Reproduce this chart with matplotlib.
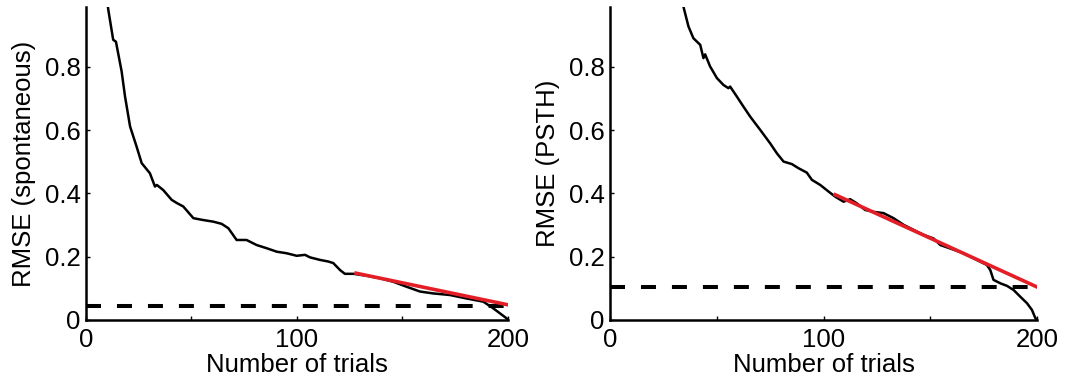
import matplotlib
matplotlib.use("Agg")
import matplotlib.pyplot as plt

# spontaneous RMSE vs trials (left panel)
spont_x = [10, 10.6, 12.9, 14.2, 16.9, 18.5, 20.9, 24.0, 26.4, 30.3, 32.7, 33.6,
           36.6, 40.6, 43.0, 46.1, 50.9, 55.6, 60.3, 64.3, 67.5, 71.4, 76.1,
           80.9, 85.6, 90.4, 95.1, 99.9, 103.8, 106.2, 110.9, 114.8, 117.2,
           120.4, 122.7, 126.7, 133.0, 139.3, 145.6, 152.0, 158.3, 164.6,
           172.5, 180.4, 188.3, 193.0, 196.2, 199.4, 200]
spont_y = [1.01, 0.98, 0.886, 0.88, 0.786, 0.707, 0.612, 0.548, 0.496, 0.464,
           0.422, 0.427, 0.411, 0.38, 0.37, 0.359, 0.322, 0.316, 0.311, 0.304,
           0.29, 0.253, 0.253, 0.237, 0.227, 0.216, 0.211, 0.203, 0.206, 0.198,
           0.19, 0.185, 0.18, 0.158, 0.146, 0.146, 0.14, 0.132, 0.121, 0.105,
           0.09, 0.084, 0.079, 0.068, 0.058, 0.037, 0.021, 0.005, 0.0]
spont_fit_x = [128, 200]
spont_fit_y = [0.148, 0.048]
spont_level = 0.045

# PSTH RMSE vs trials (right panel)
psth_x = [34.0, 34.7, 36.7, 39.0, 42.2, 43.7, 44.5, 46.8, 50.0, 53.1, 55.4,
          56.2, 59.3, 62.4, 65.6, 70.3, 74.9, 78.1, 81.2, 85.1, 88.2, 92.1,
          94.5, 98.4, 102.3, 105.4, 109.3, 112.4, 115.5, 119.4, 123.3, 128.0,
          132.7, 137.4, 142.1, 146.8, 151.4, 154.6, 159.3, 165.5, 171.7,
          176.4, 178.0, 179.5, 182.7, 185.8, 188.9, 192.0, 195.2, 197.5,
          199.1, 200]
psth_y = [1.0, 0.981, 0.928, 0.891, 0.87, 0.828, 0.84, 0.802, 0.765, 0.743,
          0.733, 0.738, 0.707, 0.675, 0.643, 0.601, 0.559, 0.527, 0.501,
          0.493, 0.48, 0.466, 0.443, 0.427, 0.406, 0.39, 0.374, 0.382, 0.369,
          0.348, 0.342, 0.338, 0.322, 0.301, 0.285, 0.269, 0.258, 0.237,
          0.226, 0.211, 0.19, 0.174, 0.158, 0.127, 0.116, 0.108, 0.095, 0.074,
          0.053, 0.032, 0.006, 0.0]
psth_fit_x = [105.4, 200]
psth_fit_y = [0.396, 0.104]
psth_level = 0.103

x_ticks = [0, 50, 100, 150, 200]
x_labels = ["0", "", "100", "", "200"]
y_ticks = [0, 0.2, 0.4, 0.6, 0.8]
y_labels = ["0", "0.2", "0.4", "0.6", "0.8"]


def draw(ax, x, y, fit_x, fit_y, level, ylabel):
    ax.plot(x, y, color="black", lw=1.8, clip_on=True)
    ax.plot([0, 200], [level, level], color="black", lw=2.9,
            dashes=(10.8, 11.5))
    ax.plot(fit_x, fit_y, color="#e41e26", lw=2.6)
    ax.set_xlim(0, 200)
    ax.set_ylim(0, 0.99)
    ax.set_xticks(x_ticks)
    ax.set_xticklabels(x_labels)
    ax.set_yticks(y_ticks)
    ax.set_yticklabels(y_labels)
    ax.tick_params(direction="in", length=3, width=1, labelsize=18.5, pad=4)
    ax.tick_params(axis="x", pad=6)
    ax.set_xlabel("Number of trials", fontsize=18.5, labelpad=0.5)
    ax.set_ylabel(ylabel, fontsize=18.5, labelpad=6)
    for s in ["top", "right"]:
        ax.spines[s].set_visible(False)
    for s in ["left", "bottom"]:
        ax.spines[s].set_linewidth(1.8)


def main():
    plt.rcParams["font.family"] = ["Liberation Sans", "DejaVu Sans"]
    plt.rcParams["lines.scale_dashes"] = False
    fig = plt.figure(figsize=(10.76, 3.83), dpi=100)
    ax1 = fig.add_axes([0.0799, 0.1645, 0.3922, 0.8175])
    ax2 = fig.add_axes([0.567, 0.1645, 0.397, 0.8175])
    draw(ax1, spont_x, spont_y, spont_fit_x, spont_fit_y, spont_level,
         "RMSE (spontaneous)")
    draw(ax2, psth_x, psth_y, psth_fit_x, psth_fit_y, psth_level,
         "RMSE (PSTH)")
    fig.savefig("out.png", dpi=100)
    return 0


if __name__ == "__main__":
    main()
